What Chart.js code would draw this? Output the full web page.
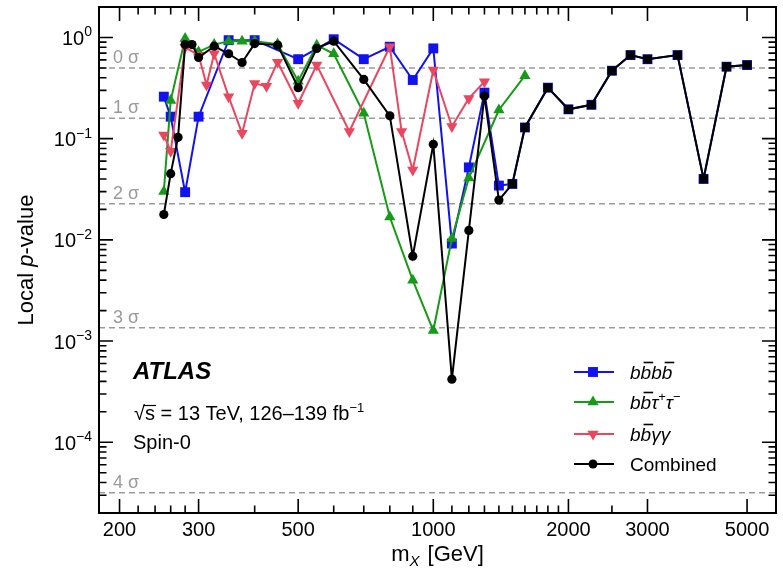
<!DOCTYPE html>
<html>
<head>
<meta charset="utf-8">
<script src="https://cdn.jsdelivr.net/npm/chart.js@4/dist/chart.umd.min.js"></script>
<style>
  html, body { margin: 0; padding: 0; background: #fff; overflow: hidden; }
  #wrap { width: 783px; height: 570px; position: relative; }
</style>
</head>
<body>
<div id="wrap"><canvas id="c" width="783" height="570"></canvas></div>
<script>
// Resonance mass points [GeV] and local p-values per channel
const massBBBB = [251, 260, 280, 300, 350, 400, 500, 600, 700, 800, 900, 1000, 1100, 1200, 1300, 1400, 1500, 1600, 1800, 2000, 2250, 2500, 2750, 3000, 3500, 4000, 4500, 5000];
const pBBBB    = [0.26, 0.165, 0.0296, 0.165, 0.94, 0.94, 0.61, 0.96, 0.61, 0.81, 0.38, 0.78, 0.0092, 0.052, 0.285, 0.0344, 0.0357, 0.129, 0.319, 0.195, 0.216, 0.469, 0.67, 0.61, 0.67, 0.040, 0.514, 0.534];

const massBBTT = [251, 260, 280, 300, 325, 350, 375, 400, 450, 500, 550, 600, 700, 800, 900, 1000, 1100, 1200, 1400, 1600];
const pBBTT    = [0.030, 0.238, 0.975, 0.72, 0.85, 0.92, 0.92, 0.92, 0.86, 0.37, 0.84, 0.69, 0.178, 0.0168, 0.0040, 0.00127, 0.0103, 0.0409, 0.192, 0.419];

const massBBYY = [251, 260, 280, 300, 312.5, 325, 350, 375, 400, 425, 450, 500, 550, 650, 800, 850, 900, 1000, 1100, 1200, 1300];
const pBBYY    = [0.109, 0.075, 0.8, 0.67, 0.34, 0.69, 0.26, 0.113, 0.35, 0.33, 0.57, 0.224, 0.534, 0.118, 0.81, 0.118, 0.049, 0.476, 0.132, 0.25, 0.366];

const massComb = [251, 260, 270, 280, 290, 300, 325, 350, 375, 400, 450, 500, 550, 600, 700, 800, 900, 1000, 1100, 1200, 1300, 1400, 1500, 1600, 1800, 2000, 2250, 2500, 2750, 3000, 3500, 4000, 4500, 5000];
const pComb    = [0.0178, 0.0451, 0.103, 0.85, 0.85, 0.634, 0.82, 0.69, 0.566, 0.87, 0.84, 0.319, 0.78, 0.92, 0.385, 0.168, 0.0069, 0.088, 0.00042, 0.0124, 0.264, 0.0247, 0.0357, 0.129, 0.319, 0.195, 0.216, 0.469, 0.67, 0.61, 0.67, 0.040, 0.514, 0.534];

// Significance reference levels
const sigmaLevels = [0, 1, 2, 3, 4];
const sigmaP = [0.5, 0.1587, 0.02275, 0.00135, 3.167e-5];

// Axis ticks
const xLabelTicks = [200, 300, 500, 1000, 2000, 3000, 5000];
const xMinorTicks = [220, 240, 260, 280, 400, 600, 700, 800, 900, 1100, 1200, 1300, 1400, 1500, 1600, 1700, 1800, 1900, 2500];
const yDecades = [0, -1, -2, -3, -4];

const BLUE = '#1212ee', GREEN = '#179a17', RED = '#e9475f', BLACK = '#000000';
const FONT = '"Liberation Sans", Arial, Helvetica, sans-serif';
const F = (size, style) => (style ? style + ' ' : '') + size + 'px ' + FONT;

const pts = (xs, ys) => xs.map((x, i) => ({ x: x, y: ys[i] }));

function drawRich(ctx, parts, x, y) {
  for (const p of parts) {
    ctx.font = p.font;
    ctx.fillText(p.t, x, y + (p.dy || 0));
    const w = ctx.measureText(p.t).width;
    if (p.over) {
      ctx.save();
      ctx.lineWidth = 1.6;
      ctx.strokeStyle = ctx.fillStyle;
      ctx.beginPath();
      ctx.moveTo(x + 3, y - 16.5);
      ctx.lineTo(x + w + 2, y - 16.5);
      ctx.stroke();
      ctx.restore();
    }
    x += w + (p.kern || 0);
  }
  return x;
}
function richWidth(ctx, parts) {
  let w = 0;
  for (const p of parts) { ctx.font = p.font; w += ctx.measureText(p.t).width + (p.kern || 0); }
  return w;
}

const decor = {
  id: 'decor',
  beforeDatasetsDraw(chart) {
    const { ctx, chartArea: a, scales: { y } } = chart;
    ctx.save();
    ctx.strokeStyle = '#9c9c9c';
    ctx.lineWidth = 1.5;
    ctx.setLineDash([6, 4]);
    sigmaP.forEach(p => {
      const py = y.getPixelForValue(p);
      ctx.beginPath();
      ctx.moveTo(a.left, py);
      ctx.lineTo(a.right, py);
      ctx.stroke();
    });
    ctx.setLineDash([]);
    ctx.fillStyle = '#9a9a9a';
    ctx.font = F(18);
    ctx.textAlign = 'left';
    ctx.textBaseline = 'alphabetic';
    sigmaP.forEach((p, i) => {
      const py = y.getPixelForValue(p);
      ctx.fillText(sigmaLevels[i] + ' \u03c3', a.left + 14, py - 5);
    });
    ctx.restore();
  },
  afterDatasetsDraw(chart) {
    const { ctx, chartArea: a, scales: { x, y } } = chart;
    ctx.save();
    ctx.strokeStyle = '#000';
    ctx.fillStyle = '#000';

    // frame
    ctx.lineWidth = 2;
    ctx.strokeRect(a.left, a.top, a.right - a.left, a.bottom - a.top);

    // x ticks (inside, top and bottom)
    ctx.lineWidth = 1.6;
    const xTick = (v, len) => {
      const px = x.getPixelForValue(v);
      ctx.beginPath();
      ctx.moveTo(px, a.bottom); ctx.lineTo(px, a.bottom - len);
      ctx.moveTo(px, a.top); ctx.lineTo(px, a.top + len);
      ctx.stroke();
    };
    xLabelTicks.forEach(v => xTick(v, 14));
    xMinorTicks.forEach(v => xTick(v, 7.5));

    // y ticks (inside, left and right)
    const yTick = (v, len) => {
      const py = y.getPixelForValue(v);
      if (py < a.top + 1 || py > a.bottom - 1) return;
      ctx.beginPath();
      ctx.moveTo(a.left, py); ctx.lineTo(a.left + len, py);
      ctx.moveTo(a.right, py); ctx.lineTo(a.right - len, py);
      ctx.stroke();
    };
    for (let e = -5; e <= 0; e++) {
      for (let k = 1; k <= 9; k++) {
        const v = k * Math.pow(10, e);
        if (v < y.min || v > y.max) continue;
        yTick(v, k === 1 ? 14 : 7.5);
      }
    }

    // x tick labels
    ctx.font = F(20);
    ctx.textAlign = 'center';
    ctx.textBaseline = 'alphabetic';
    xLabelTicks.forEach(v => ctx.fillText(String(v), x.getPixelForValue(v), a.bottom + 23));

    // y tick labels 10^n
    ctx.textAlign = 'left';
    yDecades.forEach(e => {
      const py = y.getPixelForValue(Math.pow(10, e));
      const sup = e === 0 ? '0' : '\u2212' + (-e);
      const parts = [{ t: '10', font: F(20) }, { t: sup, font: F(14), dy: -8.5 }];
      const w = richWidth(ctx, parts);
      drawRich(ctx, parts, 92 - w, py + 7.5);
    });

    // axis titles
    const xt = [{ t: 'm', font: F(22) }, { t: 'X', font: F(15, 'italic'), dy: 5, kern: 2 }, { t: ' [GeV]', font: F(22) }];
    drawRich(ctx, xt, (a.left + a.right) / 2 - richWidth(ctx, xt) / 2, 561);

    ctx.save();
    ctx.translate(33, (a.top + a.bottom) / 2);
    ctx.rotate(-Math.PI / 2);
    const yt = [{ t: 'Local ', font: F(22) }, { t: 'p', font: F(22, 'italic') }, { t: '-value', font: F(22) }];
    drawRich(ctx, yt, -richWidth(ctx, yt) / 2, 0);
    ctx.restore();

    // experiment label block
    ctx.font = F(24, 'italic bold');
    ctx.fillText('ATLAS', 133, 379);
    const cx = 134;
    ctx.font = F(20);
    ctx.fillText('\u221a', cx, 420);
    const sqw = ctx.measureText('\u221a').width;
    const sw = ctx.measureText('s').width;
    ctx.lineWidth = 1.2;
    ctx.beginPath();
    ctx.moveTo(cx + sqw - 1.5, 405.5);
    ctx.lineTo(cx + sqw + sw + 1, 405.5);
    ctx.stroke();
    drawRich(ctx, [
      { t: 's', font: F(20) },
      { t: ' = 13 TeV, 126\u2013139 fb', font: F(20) },
      { t: '\u22121', font: F(13), dy: -8 }
    ], cx + sqw, 420);
    ctx.font = F(20);
    ctx.fillText('Spin-0', 133, 449);

    // legend
    const IT = F(19, 'italic');
    const rows = [
      { color: BLUE, style: 'rect', r: 7, rot: 0, y: 372,
        parts: [{ t: 'b', font: IT }, { t: 'b', font: IT, over: true }, { t: 'b', font: IT }, { t: 'b', font: IT, over: true }] },
      { color: GREEN, style: 'triangle', r: 6.5, rot: 0, y: 402,
        parts: [{ t: 'b', font: IT }, { t: 'b', font: IT, over: true }, { t: '\u03c4', font: IT }, { t: '+', font: F(13), dy: -8 }, { t: '\u03c4', font: IT }, { t: '\u2212', font: F(13), dy: -8 }] },
      { color: RED, style: 'triangle', r: 6.5, rot: 180, y: 434,
        parts: [{ t: 'b', font: IT }, { t: 'b', font: IT, over: true }, { t: '\u03b3', font: IT }, { t: '\u03b3', font: IT }] },
      { color: BLACK, style: 'circle', r: 4.5, rot: 0, y: 464,
        parts: [{ t: 'Combined', font: F(19) }] }
    ];
    rows.forEach(row => {
      ctx.strokeStyle = row.color;
      ctx.fillStyle = row.color;
      ctx.lineWidth = 2;
      ctx.beginPath();
      ctx.moveTo(574, row.y); ctx.lineTo(614, row.y);
      ctx.stroke();
      Chart.helpers.drawPoint(ctx, { pointStyle: row.style, radius: row.r, rotation: row.rot, borderWidth: 0 }, 593, row.y);
      ctx.fillStyle = '#000';
      drawRich(ctx, row.parts, 630, row.y + 7);
    });
    ctx.restore();
  }
};

const comboStyle = c => (c.raw && c.raw.x >= 1500) ? 'rect' : 'circle';
const comboRadius = c => (c.raw && c.raw.x >= 1500) ? 6.2 : 4.6;

new Chart(document.getElementById('c').getContext('2d'), {
  type: 'line',
  data: {
    datasets: [
      { label: 'bbbb', data: pts(massBBBB, pBBBB), borderColor: BLUE, backgroundColor: BLUE,
        pointBackgroundColor: BLUE, pointStyle: 'rect', pointRadius: 7, pointBorderWidth: 0, borderWidth: 2, order: 4 },
      { label: 'bbtautau', data: pts(massBBTT, pBBTT), borderColor: GREEN, backgroundColor: GREEN,
        pointBackgroundColor: GREEN, pointStyle: 'triangle', pointRadius: 6.5, pointBorderWidth: 0, borderWidth: 2, order: 3 },
      { label: 'bbyy', data: pts(massBBYY, pBBYY), borderColor: RED, backgroundColor: RED,
        pointBackgroundColor: RED, pointStyle: 'triangle', pointRotation: 180, pointRadius: 6.5, pointBorderWidth: 0, borderWidth: 2, order: 2 },
      { label: 'Combined', data: pts(massComb, pComb), borderColor: BLACK, backgroundColor: BLACK,
        pointBackgroundColor: BLACK, pointStyle: comboStyle, pointRadius: comboRadius, pointBorderWidth: 0, borderWidth: 2, order: 1 }
    ]
  },
  options: {
    responsive: false,
    devicePixelRatio: 1,
    animation: false,
    events: [],
    layout: { padding: { left: 99, right: 1, top: 5, bottom: 57 } },
    elements: { line: { tension: 0, fill: false } },
    plugins: { legend: { display: false }, tooltip: { enabled: false } },
    scales: {
      x: { type: 'logarithmic', min: 180, max: 5800, display: false },
      y: { type: 'logarithmic', min: 2e-5, max: 2, display: false }
    }
  },
  plugins: [decor]
});
</script>
</body>
</html>
